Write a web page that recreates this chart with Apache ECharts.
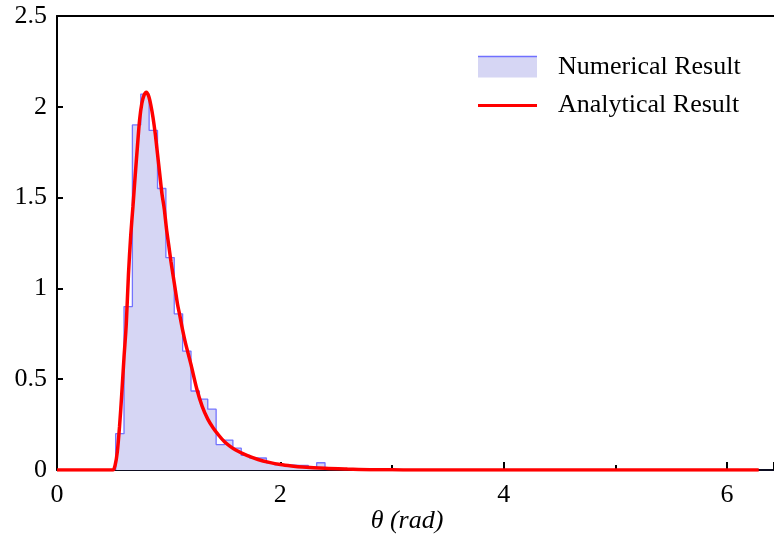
<!DOCTYPE html>
<html>
<head>
<meta charset="utf-8">
<script src="https://cdn.jsdelivr.net/npm/echarts@6/dist/echarts.min.js"></script>
<style>
  html, body { margin: 0; padding: 0; background: #fff; }
  #chart { width: 774px; height: 535px; }
</style>
</head>
<body>
<div id="chart"></div>
<script>
// Histogram of the simulated angle: bin edges and bin heights (probability density)
const binEdges = [0.525, 0.6, 0.675, 0.75, 0.825, 0.9, 0.975, 1.05, 1.125, 1.2, 1.275,
  1.35, 1.425, 1.5, 1.575, 1.65, 1.725, 1.8, 1.875, 1.95, 2.025, 2.1, 2.175,
  2.25, 2.325, 2.4, 2.475];
const binHeights = [0.20, 0.90, 1.90, 2.07, 1.87, 1.55, 1.17, 0.86, 0.655, 0.435,
  0.39, 0.335, 0.14, 0.165, 0.12, 0.08, 0.066, 0.066, 0.04, 0.028, 0.028, 0.026,
  0.026, 0.012, 0.04, 0.005];

// Analytical density curve, sampled in theta
const curveTheta = [0, 0.45, 0.50, 0.52, 0.54, 0.56, 0.58, 0.60, 0.62, 0.64, 0.66,
  0.68, 0.70, 0.72, 0.74, 0.76, 0.78, 0.80, 0.82, 0.84, 0.86, 0.88, 0.90, 0.92,
  0.94, 0.96, 0.98, 1.00, 1.02, 1.04, 1.06, 1.08, 1.10, 1.125, 1.15, 1.20, 1.25,
  1.30, 1.35, 1.40, 1.45, 1.50, 1.55, 1.60, 1.70, 1.80, 1.90, 2.00, 2.10, 2.20,
  2.40, 2.60, 2.80, 3.00, 3.20, 6.2832];
const curveDensity = [0, 0, 0, 0.025, 0.10, 0.24, 0.42, 0.62, 0.80, 1.08, 1.29,
  1.45, 1.62, 1.78, 1.93, 2.02, 2.065, 2.08, 2.06, 2.01, 1.94, 1.85, 1.74, 1.63,
  1.52, 1.44, 1.33, 1.24, 1.15, 1.07, 0.99, 0.91, 0.85, 0.77, 0.70, 0.58, 0.45,
  0.35, 0.28, 0.23, 0.19, 0.155, 0.13, 0.11, 0.08, 0.058, 0.042, 0.030, 0.022,
  0.016, 0.009, 0.005, 0.002, 0.001, 0, 0];

const xTickLabels = ['0', '2', '4', '6'];
const yTickLabels = ['0', '0.5', '1', '1.5', '2', '2.5'];

// Step outline of the histogram: rise at the first edge, hold each height to the next edge
const histPoints = [[binEdges[0], 0]];
binHeights.forEach((h, i) => histPoints.push([binEdges[i], h]));
histPoints.push([binEdges[binEdges.length - 1], 0]);

const curvePoints = curveTheta.map((t, i) => [t, curveDensity[i]]);

const serif = 'Liberation Serif';
const chart = echarts.init(document.getElementById('chart'), null, { renderer: 'canvas' });

chart.setOption({
  animation: false,
  backgroundColor: '#ffffff',
  grid: { left: 57, right: 0, top: 16, bottom: 65, containLabel: false, outerBoundsMode: 'none' },
  xAxis: [
    {
      type: 'value', min: 0, max: 6.42, interval: 2, position: 'bottom',
      name: '\u03b8 (rad)', nameLocation: 'middle', nameGap: 38, nameMoveOverlap: false,
      nameTextStyle: {
        fontFamily: serif, fontSize: 26, fontStyle: 'italic', color: '#000',
        padding: [0, 17, 0, 0]
      },
      axisLine: { show: true, lineStyle: { color: '#0d0d20', width: 2 } },
      axisTick: { show: true, inside: true, length: 8, lineStyle: { color: '#000', width: 2 } },
      axisLabel: {
        margin: 12, fontFamily: serif, fontSize: 26, color: '#000',
        formatter: v => (xTickLabels.indexOf(String(v)) >= 0 ? String(v) : '')
      },
      splitLine: { show: false }
    },
    {
      type: 'value', min: 0, max: 6.42, interval: 1, position: 'bottom',
      axisLine: { show: false },
      axisTick: { show: true, inside: true, length: 5, lineStyle: { color: '#000', width: 2 } },
      axisLabel: { show: false },
      splitLine: { show: false }
    },
    {
      type: 'value', min: 0, max: 6.42, position: 'top',
      axisLine: { show: true, lineStyle: { color: '#000', width: 2 } },
      axisTick: { show: false },
      axisLabel: { show: false },
      splitLine: { show: false }
    }
  ],
  yAxis: {
    type: 'value', min: 0, max: 2.5, interval: 0.5,
    axisLine: { show: true, lineStyle: { color: '#000', width: 2 } },
    axisTick: { show: true, inside: true, length: 6, lineStyle: { color: '#000', width: 2 } },
    axisLabel: {
      margin: 10, fontFamily: serif, fontSize: 26, color: '#000',
      formatter: v => (yTickLabels.indexOf(String(v)) >= 0 ? String(v) : '')
    },
    splitLine: { show: false }
  },
  legend: {
    orient: 'vertical', left: 473, top: 49,
    itemWidth: 59, itemHeight: 21, itemGap: 12.5,
    textStyle: { fontFamily: serif, fontSize: 26, color: '#000', padding: [0, 0, 0, 16] },
    data: [
      { name: 'Numerical Result', icon: 'rect', itemStyle: { color: '#d6d6f4', borderWidth: 0 } },
      {
        name: 'Analytical Result', icon: 'path://M0,0L59,0L59,3L0,3Z',
        itemStyle: { color: '#ff0000', borderWidth: 0 }, lineStyle: { width: 0 }
      }
    ]
  },
  graphic: [
    {
      type: 'line', z: 100,
      shape: { x1: 478, y1: 56.5, x2: 537, y2: 56.5 },
      style: { stroke: '#7070ff', lineWidth: 1.3 }
    }
  ],
  series: [
    {
      name: 'Numerical Result', type: 'line', step: 'end',
      data: histPoints, showSymbol: false, symbol: 'none',
      color: '#7070ff',
      lineStyle: { color: 'rgba(95,95,255,0.85)', width: 1.3 },
      areaStyle: { color: '#d6d6f4', opacity: 1, origin: 'start' },
      z: 2
    },
    {
      name: 'Analytical Result', type: 'line', smooth: 0.3,
      data: curvePoints, showSymbol: false, symbol: 'none',
      color: '#ff0000',
      lineStyle: { color: '#ff0000', width: 3.5 },
      z: 3
    }
  ]
});
</script>
</body>
</html>
